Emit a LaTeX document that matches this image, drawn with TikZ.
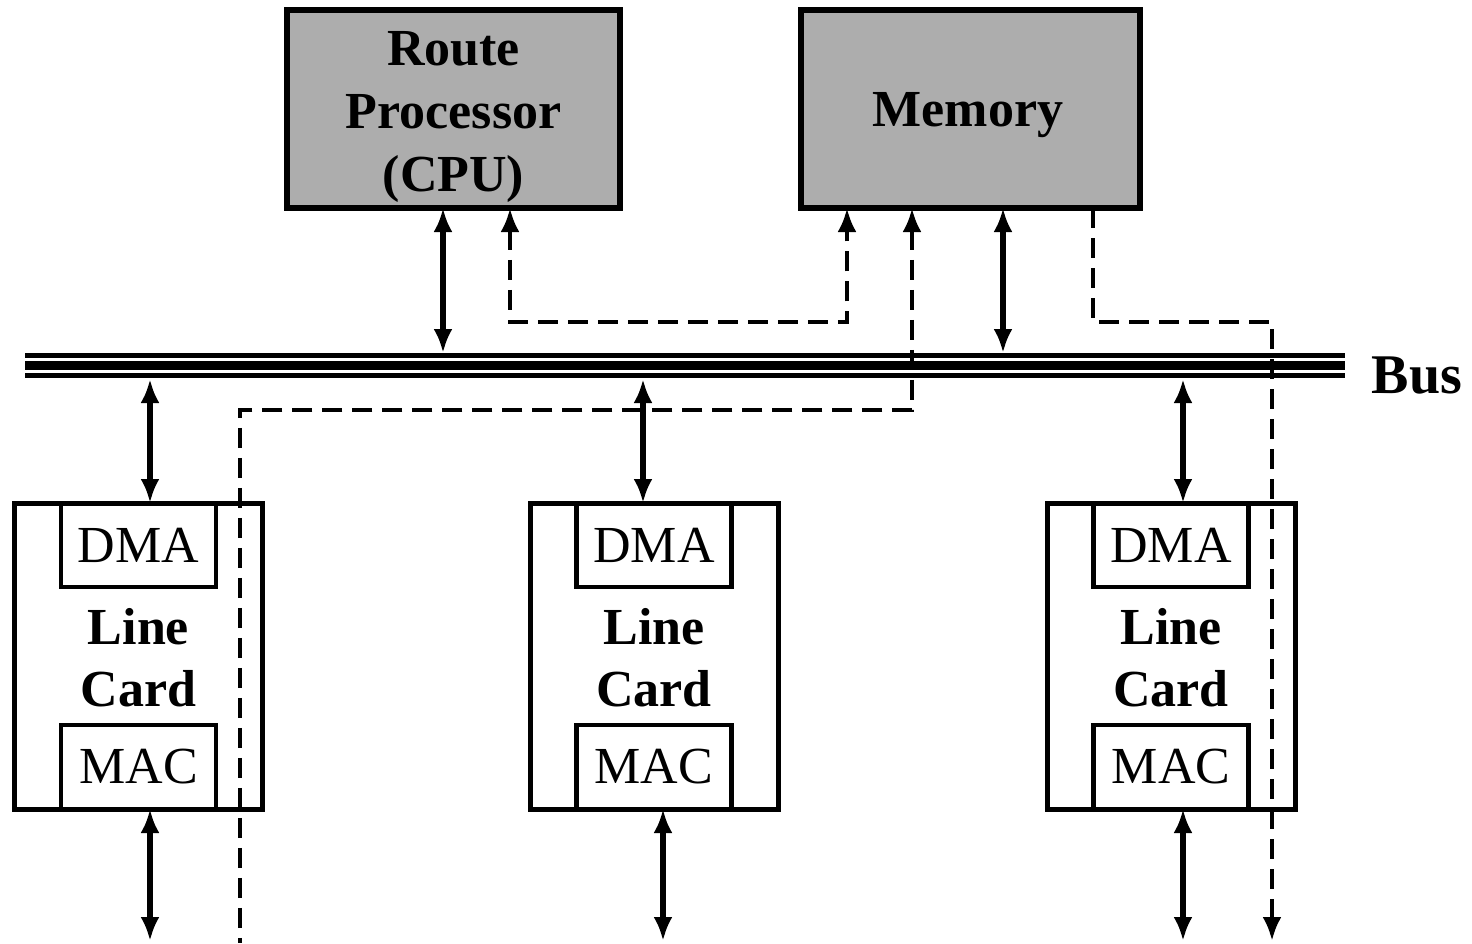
\documentclass[tikz,border=0pt]{standalone}
\usepackage{fontspec}
\setmainfont{Liberation Serif}
\usetikzlibrary{arrows.meta}
\newcommand\bigtxt{\fontsize{52}{63}\selectfont}
\newcommand\bustxt{\fontsize{56}{62}\selectfont}
\tikzset{
  box/.style={draw, line width=5.5pt, inner sep=0pt, outer sep=0pt},
  gbox/.style={box, fill=black!32},
  gtxt/.style={font=\bigtxt\bfseries, align=center, inner sep=0pt},
  cardbox/.style={box, line width=5pt, minimum width=248pt, minimum height=306pt},
  subbox/.style={box, line width=4.5pt, minimum width=155pt, minimum height=84pt, font=\bigtxt},
  cardlbl/.style={font=\bigtxt\bfseries, align=center, inner sep=0pt},
  dbl/.style={line width=6pt, <->},
  dsh/.style={line width=4.5pt, dash pattern=on 20pt off 10pt},
  busline/.style={line width=#1}
}
\begin{document}
\begin{tikzpicture}[x=1pt,y=-1pt, >={Latex[length=24pt,width=19pt]}]
\useasboundingbox (0,0) rectangle (1472,943);

% top boxes
\node[gbox, minimum width=333pt, minimum height=198pt] (cpu) at (453.5,109) {};
\node[gtxt] (cputxt) at (453.5,117) {Route\\Processor\\(CPU)};
\node[gbox, minimum width=339pt, minimum height=198pt] (mem) at (970.5,109) {};
\node[gtxt] (memtxt) at (968,115) {Memory};

% bus
\coordinate (busL) at (25,365);
\coordinate (busR) at (1345,365);
\draw[busline=5pt] ([yshift=9.5pt]busL) -- ([yshift=9.5pt]busR);
\draw[busline=9pt] (busL) -- (busR);
\draw[busline=5pt] ([yshift=-10pt]busL) -- ([yshift=-10pt]busR);
\node[font=\bustxt\bfseries, inner sep=0pt] (buslbl) at (1417,375) {Bus};

% line cards
\foreach \n/\x in {1/138.5, 2/654, 3/1171}{
  \node[cardbox] (card\n) at (\x,656) {};
  \node[subbox] (dma\n) at (\x,545) {DMA};
  \node[subbox] (mac\n) at (\x,767) {MAC};
  \node[cardlbl] (lbl\n) at (\x,658) {Line\\[-1pt]Card};
}

% bus attachment points
\coordinate (bcpu) at (443,353);
\coordinate (bmem) at (1003,353);
\coordinate (bc1) at (150,379);
\coordinate (bc2) at (643,379);
\coordinate (bc3) at (1183,379);

% solid arrows
\draw[dbl] (cpu.south -| bcpu) -- (bcpu);
\draw[dbl] (mem.south -| bmem) -- (bmem);
\draw[dbl] (bc1) -- (card1.north -| bc1);
\draw[dbl] (bc2) -- (card2.north -| bc2);
\draw[dbl] (bc3) -- (card3.north -| bc3);

% external port arrows
\coordinate (o1) at (150,941);
\coordinate (o2) at (663,941);
\coordinate (o3) at (1183,941);
\draw[dbl] (card1.south -| o1) -- (o1);
\draw[dbl] (card2.south -| o2) -- (o2);
\draw[dbl] (card3.south -| o3) -- (o3);

% dashed paths
\coordinate (d1) at (510,322);
\coordinate (d2) at (847,322);
\draw[dsh, <->] (cpu.south -| d1) -- (d1) -- (d2) -- (mem.south -| d2);

\coordinate (e1) at (912,410);
\coordinate (e2) at (240,410);
\coordinate (e3) at (240,943);
\draw[dsh, <-] (mem.south -| e1) -- (e1) -- (e2) -- (e3);

\coordinate (f1) at (1093,322);
\coordinate (f2) at (1272,322);
\coordinate (f3) at (1272,941);
\draw[dsh, ->] (mem.south -| f1) -- (f1) -- (f2) -- (f3);
\end{tikzpicture}
\end{document}
